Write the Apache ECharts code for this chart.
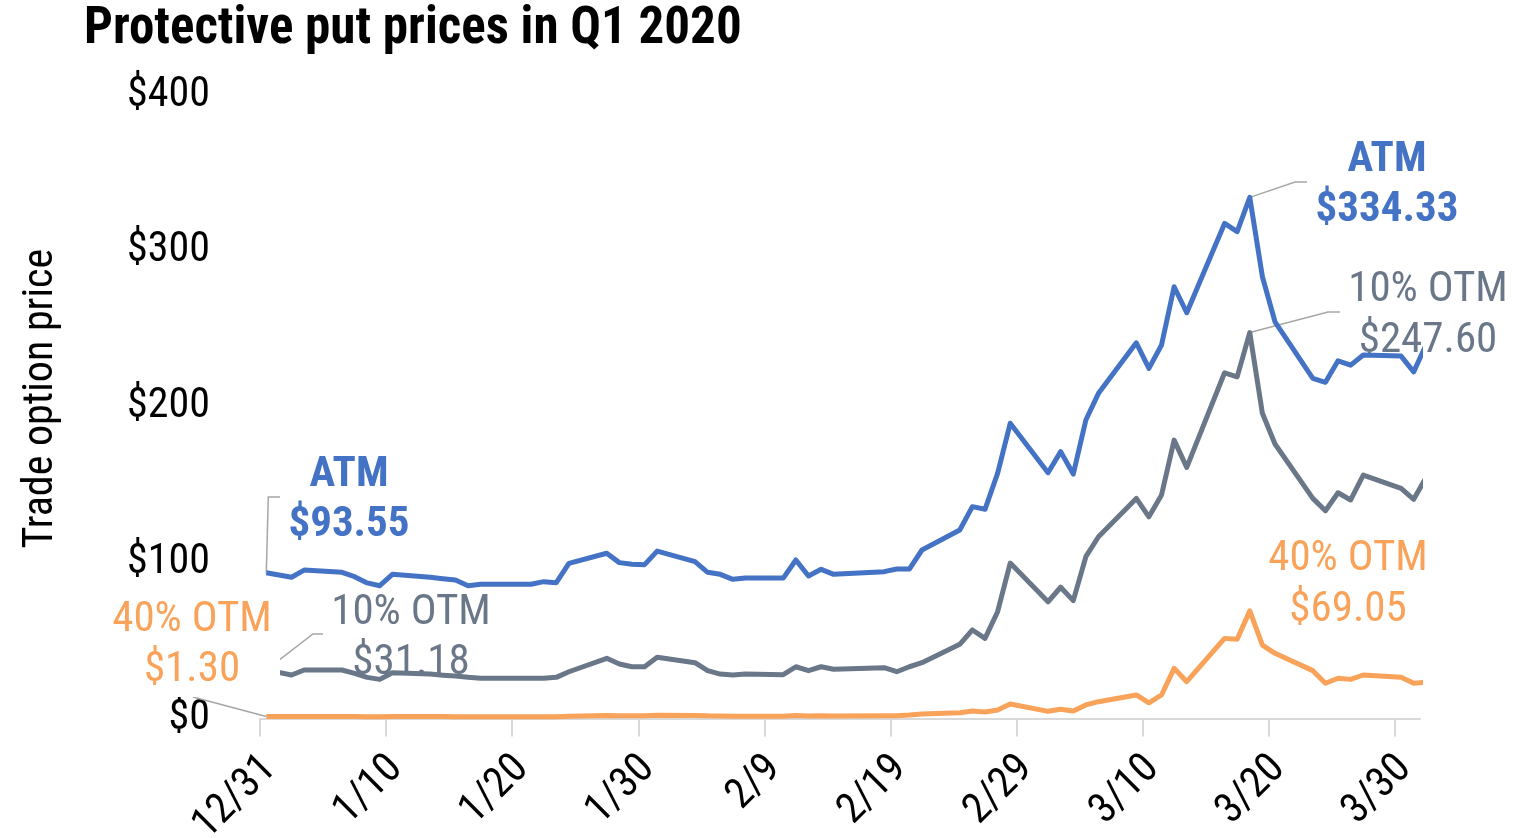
<!DOCTYPE html>
<html>
<head>
<meta charset="utf-8">
<script src="https://cdn.jsdelivr.net/npm/echarts@6/dist/echarts.min.js"></script>
<style>
  html, body { margin: 0; padding: 0; background: #fff; }
  #chartmain { width: 1525px; height: 838px; }
</style>
</head>
<body>
<div id="chartmain"></div>
<script>
// trading days, Q1 2020 (4/1 sits past the axis end and gets clipped)
var dates = ['12/31', '1/2', '1/3', '1/6', '1/7', '1/8', '1/9', '1/10', '1/13', '1/14', '1/15', '1/16', '1/17',
    '1/21', '1/22', '1/23', '1/24', '1/27', '1/28', '1/29', '1/30', '1/31',
    '2/3', '2/4', '2/5', '2/6', '2/7', '2/10', '2/11', '2/12', '2/13', '2/14',
    '2/18', '2/19', '2/20', '2/21', '2/24', '2/25', '2/26', '2/27', '2/28',
    '3/2', '3/3', '3/4', '3/5', '3/6', '3/9', '3/10', '3/11', '3/12', '3/13',
    '3/16', '3/17', '3/18', '3/19', '3/20', '3/23', '3/24', '3/25', '3/26', '3/27',
    '3/30', '3/31', '4/1'];
var atm = [93.55, 90.6, 95.2, 93.8, 91.0, 87.0, 85.2, 92.5, 90.6, 89.7, 88.8, 85.2, 86.1,
    86.1, 87.8, 87.1, 99.5, 106.0, 100.0, 99.0, 98.7, 107.4,
    100.6, 93.8, 92.5, 89.3, 90.1, 90.1, 101.7, 91.4, 95.7, 92.5,
    94.2, 95.9, 95.9, 108.1, 120.9, 135.9, 134.2, 157.3, 189.4,
    157.7, 171.2, 156.8, 191.5, 208.6, 241.0, 224.6, 239.6, 277.0, 260.3,
    317.6, 312.3, 334.33, 283.4, 254.5, 218.2, 215.7, 229.5, 226.7, 233.2,
    232.5, 222.4, 240.0];
var otm10 = [31.18, 27.9, 31.1, 31.1, 29.0, 26.4, 25.1, 29.4, 28.5, 27.8, 27.2, 26.4, 25.8,
    25.8, 25.8, 26.4, 30.0, 38.6, 35.0, 33.2, 33.2, 39.3,
    35.8, 30.7, 28.5, 27.9, 28.5, 28.1, 33.2, 30.7, 33.2, 31.6,
    32.6, 30.0, 33.2, 35.8, 47.6, 56.8, 51.4, 68.5, 99.7,
    74.9, 84.2, 75.6, 103.8, 116.6, 141.2, 129.4, 143.4, 178.6, 161.1,
    221.8, 219.2, 247.60, 195.8, 176.1, 141.2, 133.3, 144.8, 140.2, 156.2,
    147.7, 140.6, 155.0];
var otm40 = [1.30, 1.25, 1.3, 1.3, 1.25, 1.2, 1.2, 1.3, 1.3, 1.25, 1.2, 1.15, 1.15,
    1.15, 1.15, 1.2, 1.5, 1.9, 1.8, 1.8, 1.8, 2.1,
    2.0, 1.7, 1.6, 1.5, 1.5, 1.5, 1.9, 1.6, 1.7, 1.6,
    1.7, 1.8, 2.2, 2.9, 3.7, 4.8, 4.2, 5.5, 9.3,
    4.6, 5.9, 4.8, 8.7, 10.8, 15.1, 10.1, 15.1, 32.2, 23.6,
    51.4, 50.8, 69.05, 47.1, 41.8, 30.7, 22.6, 25.8, 25.1, 27.9,
    26.4, 22.6, 23.2];
var tickLabels = ['12/31', '1/10', '1/20', '1/30', '2/9', '2/19', '2/29', '3/10', '3/20', '3/30'];
var axisEnd = '3/31';
var yTicks = [0, 100, 200, 300, 400];

var FONT = '"Roboto Condensed", "Liberation Sans Narrow", "DejaVu Sans Condensed", Roboto, sans-serif';
var BLUE = '#4472C4', GREY = '#6A7789', ORANGE = '#F8A25A', LEADER = '#A6A6A6';
var LABEL_SHIFT = 0.8; // rotated date labels sit a bit right of their tick

// days since 12/31/2019
function dayIndex(s) {
    var p = s.split('/');
    var yr = p[0] === '12' ? 2019 : 2020;
    return Math.round((Date.UTC(yr, p[0] - 1, +p[1]) - Date.UTC(2019, 11, 31)) / 86400000);
}
// each day owns one slot, points sit in the middle of it
function pts(vals) {
    return dates.map(function (d, i) { return [dayIndex(d) + 0.5, vals[i]]; });
}
var tickDays = tickLabels.map(dayIndex);

function lineSeries(name, vals, color) {
    return {
        name: name,
        type: 'line',
        data: pts(vals),
        showSymbol: false,
        symbol: 'none',
        clip: true,
        lineStyle: { color: color, width: 5, join: 'round' },
        z: 3
    };
}

var option = {
    animation: false,
    backgroundColor: '#fff',
    title: {
        text: 'Protective put prices in Q1 2020',
        left: 79,
        top: 0,
        textStyle: { fontFamily: FONT, fontSize: 51, fontWeight: 'bold', color: '#000' }
    },
    grid: { left: 260, right: 105, top: 95, bottom: 119.5, outerBoundsMode: 'none' },
    xAxis: {
        type: 'value',
        min: 0,
        max: dayIndex(axisEnd) + 1,
        splitLine: { show: false },
        axisLine: { lineStyle: { color: '#D9D9D9', width: 2 } },
        axisTick: { show: true, length: 18, customValues: tickDays, lineStyle: { color: '#D9D9D9', width: 2 } },
        axisLabel: {
            customValues: tickDays.map(function (d) { return d + LABEL_SHIFT; }),
            rotate: 45,
            margin: 44,
            fontFamily: FONT,
            fontSize: 42,
            color: '#000',
            formatter: function (v) {
                var i = tickDays.indexOf(Math.floor(v));
                return i < 0 ? '' : tickLabels[i];
            }
        }
    },
    yAxis: {
        type: 'value',
        min: yTicks[0],
        max: yTicks[yTicks.length - 1],
        interval: yTicks[1] - yTicks[0],
        name: 'Trade option price',
        nameLocation: 'middle',
        nameGap: 198,
        nameRotate: 90,
        nameMoveOverlap: false,
        nameTextStyle: { fontFamily: FONT, fontSize: 42, color: '#000', padding: [0, 0, 0, 16] },
        splitLine: { show: false },
        axisLine: { show: false },
        axisTick: { show: false },
        axisLabel: {
            margin: 50,
            fontFamily: FONT,
            fontSize: 42,
            color: '#000',
            formatter: function (v) { return '$' + v; }
        }
    },
    series: [
        lineSeries('40% OTM', otm40, ORANGE),
        lineSeries('10% OTM', otm10, GREY),
        lineSeries('ATM', atm, BLUE)
    ]
};

var myChart = echarts.init(document.getElementById('chartmain'));
myChart.setOption(option);

// call-outs for the first day and the peak day
var first = 0, peak = dates.indexOf('3/18');
function px(i, vals) { return myChart.convertToPixel({ gridIndex: 0 }, pts(vals)[i]); }
function money(v) { return '$' + v.toFixed(2); }
function txt(s, x, y, color, bold, z) {
    return {
        type: 'text', z: z || 1, silent: true,
        style: {
            text: s, x: x, y: y + 3, fill: color, align: 'center', verticalAlign: 'middle',
            font: (bold ? 'bold ' : '') + '43px ' + FONT
        }
    };
}
function leader(points) {
    return {
        type: 'polyline', z: 1, silent: true,
        shape: { points: points },
        style: { stroke: LEADER, lineWidth: 1.5, fill: null }
    };
}

var a0 = px(first, atm), g0 = px(first, otm10), o0 = px(first, otm40);
var aP = px(peak, atm), gP = px(peak, otm10);

myChart.setOption({
    graphic: [
        leader([a0, [a0[0] + 2, 497], [280, 497]]),
        txt('ATM', 349, 472, BLUE, true),
        txt(money(atm[first]), 349, 522, BLUE, true),

        leader([g0, [313, 634], [323, 634]]),
        txt('10% OTM', 411, 610, GREY, false),
        txt(money(otm10[first]), 411, 660, GREY, false),

        // white box behind the 40% label hides the start of the grey line
        { type: 'rect', z: 10, silent: true, shape: { x: 100, y: 590, width: 180, height: 107 }, style: { fill: '#fff' } },
        leader([[193, 697], o0]),
        txt('40% OTM', 192, 617, ORANGE, false, 11),
        txt(money(otm40[first]), 192, 667, ORANGE, false, 11),

        leader([aP, [1295, 182], [1307, 182]]),
        txt('ATM', 1387, 157, BLUE, true),
        txt(money(atm[peak]), 1387, 207, BLUE, true),

        leader([gP, [1328, 312], [1340, 312]]),
        txt('10% OTM', 1428, 287, GREY, false),
        txt(money(otm10[peak]), 1428, 338, GREY, false),

        txt('40% OTM', 1348, 556, ORANGE, false),
        txt(money(otm40[peak]), 1348, 607, ORANGE, false)
    ]
});
</script>
</body>
</html>
